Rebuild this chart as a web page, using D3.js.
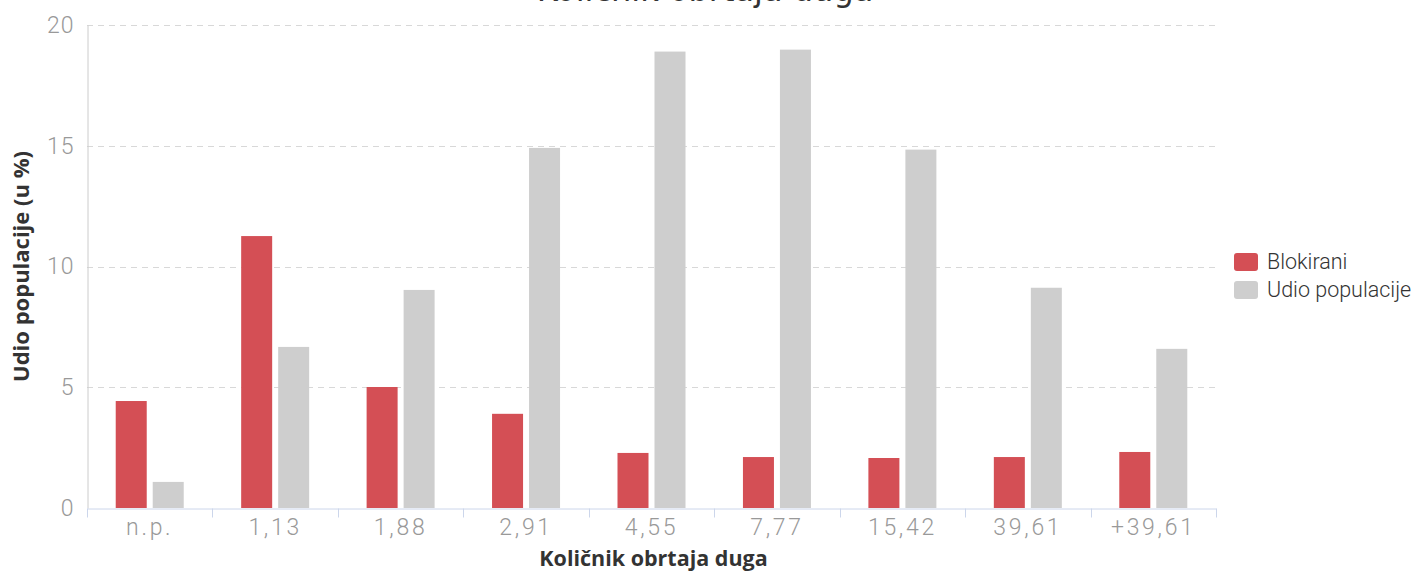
<!DOCTYPE html>
<meta charset="utf-8">
<style>
  body { margin: 0; background: #fff; }
  svg { display: block; }
</style>
<svg width="1417" height="571"></svg>
<script src="https://cdn.jsdelivr.net/npm/d3@7"></script>
<script>

var categories = ["n.p.", "1,13", "1,88", "2,91", "4,55", "7,77", "15,42", "39,61", "+39,61"];
var seriesNames = ["Blokirani", "Udio populacije"];
var blokirani = [4.43, 11.26, 5.01, 3.9, 2.28, 2.11, 2.07, 2.11, 2.32];
var udio = [1.08, 6.67, 9.03, 14.91, 18.9, 18.98, 14.84, 9.12, 6.59];
var yTicks = [0, 5, 10, 15, 20];
var colors = ["#d44f55", "#cecece"];

var svg = d3.select("svg");
var width = +svg.attr("width");
var height = +svg.attr("height");

var plotLeft = 87, plotRight = 1216, plotTop = 25, plotBottom = 508;

var x = d3.scaleBand().domain(categories).range([plotLeft, plotRight]).padding(0);
var x1 = d3.scaleBand().domain(seriesNames).range([-34, 34]).paddingInner(0.162).paddingOuter(0);
var y = d3.scaleLinear().domain([0, 20]).range([plotBottom, plotTop]);

// title (cut off at the top, like the original)
svg.append("text")
    .attr("x", 705)
    .attr("y", 1)
    .attr("text-anchor", "middle")
    .style("font-family", "DejaVu Sans")
    .style("font-size", "32px")
    .style("fill", "#333")
    .text("Količnik obrtaja duga");

// grid lines
svg.append("g").selectAll("line")
  .data(yTicks.filter(function(d) { return d > 0; }))
  .enter().append("line")
    .attr("x1", plotLeft)
    .attr("x2", plotRight)
    .attr("y1", function(d) { return Math.round(y(d)) + 0.5; })
    .attr("y2", function(d) { return Math.round(y(d)) + 0.5; })
    .attr("stroke", "#d8d8d8")
    .attr("stroke-dasharray", "6,5");

// y axis
var yAxis = svg.append("g")
    .attr("transform", "translate(" + (plotLeft + 0.5) + ",0)")
    .call(d3.axisLeft(y).tickValues(yTicks).tickSize(0).tickPadding(13));
yAxis.select(".domain").attr("stroke", "#cccccc");
yAxis.selectAll("text")
    .style("font-family", "Roboto")
    .style("font-weight", "300")
    .style("font-size", "23px")
    .style("letter-spacing", "1px")
    .style("fill", "#999");

// bars
var rows = categories.map(function(c, i) {
  return { cat: c, values: [blokirani[i], udio[i]] };
});

var groups = svg.append("g").selectAll("g")
  .data(rows)
  .enter().append("g")
    .attr("transform", function(d) { return "translate(" + (x(d.cat) + x.bandwidth() / 2) + ",0)"; });

groups.selectAll("rect")
  .data(function(d) { return d.values.map(function(v, j) { return { name: seriesNames[j], v: v, j: j }; }); })
  .enter().append("rect")
    .attr("x", function(d) { return x1(d.name); })
    .attr("width", x1.bandwidth())
    .attr("y", function(d) { return y(d.v); })
    .attr("height", function(d) { return plotBottom - y(d.v); })
    .attr("fill", function(d) { return colors[d.j]; });

// x axis
var xAxis = svg.append("g")
    .attr("transform", "translate(0," + (plotBottom + 0.5) + ")")
    .call(d3.axisBottom(x).tickSize(0).tickPadding(10));
xAxis.select(".domain").attr("stroke", "#ccd6eb").attr("stroke-width", 1);
xAxis.selectAll("text")
    .style("font-family", "Roboto")
    .style("font-weight", "300")
    .style("font-size", "23px")
    .style("letter-spacing", "2.7px")
    .style("fill", "#999");

// tick marks at the band edges
var edges = categories.map(function(c) { return x(c); }).concat([plotRight]);
xAxis.selectAll("line.edge")
  .data(edges)
  .enter().append("line")
    .attr("class", "edge")
    .attr("x1", function(d) { return Math.round(d) + 0.5; })
    .attr("x2", function(d) { return Math.round(d) + 0.5; })
    .attr("y1", 0)
    .attr("y2", 9)
    .attr("stroke", "#ccd6eb");

// axis titles
svg.append("text")
    .attr("x", (plotLeft + plotRight) / 2 + 2)
    .attr("y", 566)
    .attr("text-anchor", "middle")
    .style("font-family", "Open Sans")
    .style("font-weight", "bold")
    .style("font-size", "21.5px")
    .style("fill", "#333")
    .text("Količnik obrtaja duga");

svg.append("text")
    .attr("transform", "translate(29," + ((plotTop + plotBottom) / 2) + ") rotate(-90)")
    .attr("text-anchor", "middle")
    .style("font-family", "Open Sans")
    .style("font-weight", "bold")
    .style("font-size", "22px")
    .style("fill", "#333")
    .text("Udio populacije (u %)");

// legend
var legend = svg.append("g").selectAll("g")
  .data(seriesNames)
  .enter().append("g")
    .attr("transform", function(d, i) { return "translate(1234," + (253 + i * 28) + ")"; });

legend.append("rect")
    .attr("width", 24)
    .attr("height", 18)
    .attr("rx", 3)
    .attr("fill", function(d, i) { return colors[i]; });

legend.append("text")
    .attr("x", 33)
    .attr("y", 16)
    .style("font-family", "Roboto")
    .style("font-weight", "300")
    .style("font-size", "21.5px")
    .style("fill", "#333")
    .text(function(d) { return d; });

</script>
